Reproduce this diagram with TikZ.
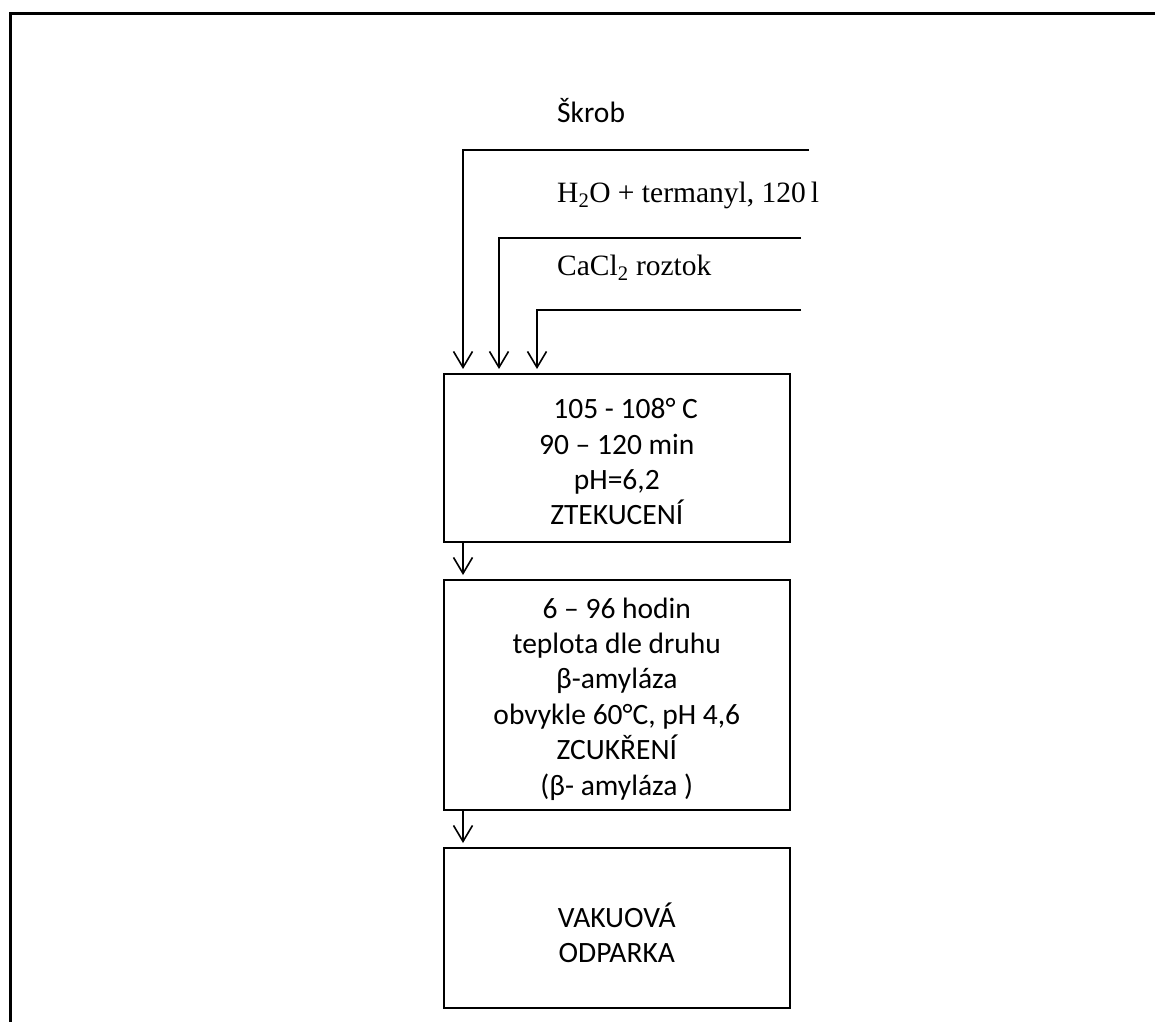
\documentclass[tikz,border=0pt]{standalone}
\usepackage{fontspec}
\setmainfont{Carlito}
\newfontfamily\tms{Liberation Serif}
\usetikzlibrary{arrows.meta}
\begin{document}
\begin{tikzpicture}[x=1pt,y=-1pt,
  box/.style={draw,line width=1.6pt,minimum width=346pt,anchor=north west,inner sep=0pt},
  txt/.style={align=center,inner sep=0pt,font=\fontsize{29.5}{35.4}\selectfont},
  arr/.style={line width=1.6pt,-{Straight Barb[length=16pt,width=19pt,line width=1.6pt]},shorten >=4pt},
  lab/.style={anchor=base west,inner sep=0pt},
  frame/.style={line width=3pt}]
\useasboundingbox (0,0) rectangle (1155,1021);
\draw[frame] (10,1030) -- (10,13) -- (1160,13);

\node[lab,font=\fontsize{29.5}{34}\selectfont] (t1) at (557,122) {Škrob};
\node[lab,font=\tms\fontsize{29.5}{34}\selectfont] (t2) at (557,202) {H\textsubscript{2}O + termanyl, 120\,l};
\node[lab,font=\tms\fontsize{29.5}{34}\selectfont] (t3) at (557,275) {CaCl\textsubscript{2} roztok};

\node[box,minimum height=168pt] (b1) at (443,373) {};
\node[box,minimum height=230pt] (b2) at (443,579) {};
\node[box,minimum height=160pt] (b3) at (443,847) {};
\node[txt] (b1t) at ([yshift=-4pt]b1.center) {\hspace*{0.6em}105 - 108° C\\90 – 120 min\\pH=6,2\\ZTEKUCENÍ};
\node[txt] (b2t) at ([yshift=-4pt]b2.center) {6 – 96 hodin\\teplota dle druhu\\β-amyláza\\obvykle 60°C, pH 4,6\\ZCUKŘENÍ\\(β- amyláza )};
\node[txt] (b3t) at ([yshift=-5pt]b3.center) {VAKUOVÁ\\ODPARKA};

\coordinate (s1) at (809,150);
\coordinate (s2) at (801,238);
\coordinate (s3) at (801,310);
\draw[arr] (s1) -| ([xshift=20pt]b1.north west);
\draw[arr] (s2) -| ([xshift=56pt]b1.north west);
\draw[arr] (s3) -| ([xshift=94pt]b1.north west);
\draw[arr] ([xshift=20pt]b1.south west) -- ([xshift=20pt]b2.north west);
\draw[arr] ([xshift=20pt]b2.south west) -- ([xshift=20pt]b3.north west);
\end{tikzpicture}
\end{document}
